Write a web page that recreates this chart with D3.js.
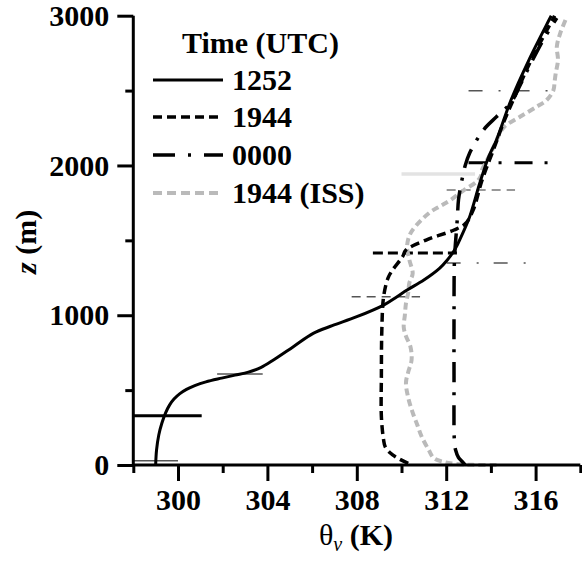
<!DOCTYPE html>
<html>
<head>
<meta charset="utf-8">
<script src="https://cdn.jsdelivr.net/npm/d3@7"></script>
<style>
  html, body { margin: 0; padding: 0; background: #fff; }
  svg { display: block; }
  text { font-family: "Liberation Serif", "Times New Roman", serif; }
</style>
</head>
<body>
<svg id="chart" width="582" height="562"></svg>
<script>
// ---------------- data ----------------
const seriesNames = ["1252", "1944", "0000", "1944 (ISS)"];

const z1252 = [0, 100, 200, 280, 350, 400, 440, 475, 505, 530, 555, 580, 600, 620, 650, 701, 790, 879, 930, 990, 1068, 1124, 1168, 1235, 1313, 1369, 1430, 1470, 1502, 1658, 1881, 2058, 2170, 2437, 2704, 2971, 3000];
const t1252 = [299.0, 299.04, 299.14, 299.28, 299.45, 299.62, 299.82, 300.07, 300.38, 300.75, 301.25, 301.95, 302.55, 303.15, 303.7, 304.27, 305.16, 306.05, 306.9, 308.0, 309.2, 309.8, 310.25, 311.0, 311.7, 312.05, 312.35, 312.5, 312.6, 313.05, 313.5, 313.9, 314.25, 314.9, 315.7, 316.6, 316.7];

const z1944 = [11, 40, 80, 122, 167, 322, 600, 900, 1124, 1250, 1302, 1391, 1435, 1502, 1569, 1610, 1700, 1900, 2100, 2300, 2437, 2704, 2971, 3000];
const t1944 = [310.3, 309.9, 309.5, 309.27, 309.2, 309.1, 309.1, 309.12, 309.2, 309.4, 309.6, 310.05, 310.2, 311.1, 312.35, 312.85, 313.2, 313.6, 314.1, 314.6, 315.0, 315.8, 316.75, 316.85];

const z0000 = [0, 25, 50, 100, 150, 600, 1000, 1370, 1550, 1650, 1770, 1900, 2000, 2083, 2190, 2260, 2325, 2420, 2550, 2700, 2840, 2985];
const t0000 = [312.85, 312.7, 312.55, 312.42, 312.37, 312.35, 312.35, 312.37, 312.45, 312.5, 312.55, 312.7, 312.85, 313.05, 313.45, 313.8, 314.25, 314.9, 315.35, 315.85, 316.35, 316.95];

const zISS = [0, 1, 8, 20, 45, 100, 190, 270, 350, 450, 550, 620, 700, 790, 860, 920, 1000, 1080, 1150, 1215, 1280, 1370, 1460, 1530, 1570, 1630, 1690, 1730, 1770, 1836, 1890, 1930, 1970, 2030, 2083, 2150, 2200, 2258, 2325, 2392, 2437, 2504, 2560, 2615, 2704, 2793, 2882, 2993];
const tISS = [314.25, 313.2, 312.4, 311.9, 311.45, 311.22, 310.9, 310.7, 310.5, 310.3, 310.2, 310.3, 310.45, 310.4, 310.2, 310.1, 310.15, 310.2, 310.3, 310.35, 310.5, 310.35, 310.25, 310.35, 310.5, 310.85, 311.3, 311.75, 312.2, 312.8, 313.35, 313.55, 313.6, 313.8, 314.0, 314.2, 314.35, 314.6, 315.3, 316.05, 316.5, 316.8, 316.85, 316.9, 317.0, 316.95, 317.1, 317.4];

// horizontal marker segments (series index, kind, height, theta range)
const markerSeries = [0, 0, 0, 1, 1, 1, 2, 2, 2, 3];
const markerKind   = ["thick", "thin", "thin", "thick", "thin", "thinGray", "thick", "thin", "thin", "thick"];
const markerZ      = [329, 29, 607, 1415, 1124, 1836, 2018, 1349, 2499, 1943];
const markerT0     = [298, 298, 301.75, 308.72, 307.77, 312.02, 313.0, 312.02, 313.0, 310.0];
const markerT1     = [301.06, 300, 303.79, 312.48, 310.83, 315.08, 316.64, 315.6, 316.64, 313.29];

const xMajorTicks = [300, 304, 308, 312, 316];
const xMinorTicks = [298, 302, 306, 310, 314, 318];
const yMajorTicks = [0, 1000, 2000, 3000];
const yMinorTicks = [500, 1500, 2500];

// ---------------- drawing ----------------
const svg = d3.select("#chart");
svg.append("rect").attr("width", 582).attr("height", 562).attr("fill", "#fff");

const x = d3.scaleLinear().domain([298, 318]).range([133.3, 580.3]);
const y = d3.scaleLinear().domain([0, 3000]).range([465, 15.7]);

const styles = [
  { stroke: "#000", width: 3, dash: null },
  { stroke: "#000", width: 3.5, dash: "9,5" },
  { stroke: "#000", width: 3.5, dash: "20,10,3,10" },
  { stroke: "#bababa", width: 4, dash: "7,4" }
];

// markers
const markerG = svg.append("g");
markerSeries.forEach((s, i) => {
  let stroke = "#000", w = 3, dash = null;
  const kind = markerKind[i];
  if (s === 1) dash = kind === "thick" ? "10,5" : "9,6";
  if (s === 2) dash = kind === "thick" ? "18,12,3,13" : "14,16,2,15";
  if (kind === "thin") { stroke = "#555"; w = 1.5; }
  if (kind === "thinGray") { stroke = "#777"; w = 1.5; }
  if (s === 3) { stroke = "#e3e3e3"; w = 3.5; dash = null; }
  markerG.append("line")
    .attr("x1", x(markerT0[i])).attr("x2", x(markerT1[i]))
    .attr("y1", y(markerZ[i])).attr("y2", y(markerZ[i]))
    .attr("stroke", stroke).attr("stroke-width", w)
    .attr("stroke-dasharray", dash);
});

// profiles
const line = d3.line().x(d => x(d[1])).y(d => y(d[0])).curve(d3.curveCatmullRom.alpha(0.5));
const data = [
  d3.zip(z1252, t1252),
  d3.zip(z1944, t1944),
  d3.zip(z0000, t0000),
  d3.zip(zISS, tISS)
];
const drawOrder = [3, 2, 1, 0];
drawOrder.forEach(i => {
  svg.append("path")
    .attr("d", line(data[i]))
    .attr("fill", "none")
    .attr("stroke", styles[i].stroke)
    .attr("stroke-width", styles[i].width)
    .attr("stroke-dasharray", styles[i].dash)
    .attr("stroke-linejoin", "round");
});

// axes
function styleAxis(g) {
  g.select(".domain").attr("stroke-width", 3).attr("stroke", "#000");
  g.selectAll(".tick line").attr("stroke-width", 3).attr("stroke", "#000");
  g.selectAll(".tick text").attr("font-family", "Liberation Serif, serif")
    .attr("font-weight", "bold").attr("font-size", 30).attr("fill", "#000");
}
const yMinor = svg.append("g").attr("transform", `translate(${x(298)},0)`)
  .call(d3.axisLeft(y).tickValues(yMinorTicks).tickSize(8).tickFormat(""));
styleAxis(yMinor);
const yMajor = svg.append("g").attr("transform", `translate(${x(298)},0)`)
  .call(d3.axisLeft(y).tickValues(yMajorTicks).tickSize(16).tickPadding(8).tickFormat(d3.format("d")));
styleAxis(yMajor);
yMajor.select(".domain").attr("d", `M0,${y(3000)}V${y(0)}`);

const xMinor = svg.append("g").attr("transform", `translate(0,${y(0)})`)
  .call(d3.axisBottom(x).tickValues(xMinorTicks).tickSize(8).tickFormat(""));
styleAxis(xMinor);
const xMajor = svg.append("g").attr("transform", `translate(0,${y(0)})`)
  .call(d3.axisBottom(x).tickValues(xMajorTicks).tickSize(16).tickPadding(8).tickFormat(d3.format("d")));
styleAxis(xMajor);
xMajor.select(".domain").attr("d", `M${x(298)},0H${x(318)}`);
xMinor.select(".domain").remove();
yMinor.select(".domain").remove();

// axis titles
const xt = svg.append("text").attr("x", 356).attr("y", 545).attr("text-anchor", "middle")
  .attr("font-size", 30).attr("fill", "#000");
xt.append("tspan").text("θ");
xt.append("tspan").attr("font-style", "italic").attr("font-size", 20).attr("dy", 6).text("v");
xt.append("tspan").attr("font-weight", "bold").attr("dy", -6).text(" (K)");

const yt = svg.append("text").attr("transform", `translate(36,${y(1490)}) rotate(-90)`)
  .attr("text-anchor", "middle").attr("font-size", 30).attr("font-weight", "bold").attr("fill", "#000");
yt.append("tspan").attr("font-style", "italic").text("z");
yt.append("tspan").text(" (m)");

// legend
const lg = svg.append("g");
lg.append("text").attr("x", 182).attr("y", 53).attr("font-size", 30).attr("font-weight", "bold").text("Time (UTC)");
const rowY = [80, 117, 155, 193];
seriesNames.forEach((name, i) => {
  lg.append("line").attr("x1", 153).attr("x2", 223).attr("y1", rowY[i]).attr("y2", rowY[i])
    .attr("stroke", styles[i].stroke).attr("stroke-width", styles[i].width)
    .attr("stroke-dasharray", i === 2 ? "22,13,3,13" : (i === 0 ? null : "9,5"));
  lg.append("text").attr("x", 232).attr("y", rowY[i] + 10).attr("font-size", 30)
    .attr("font-weight", "bold").text(name);
});
</script>
</body>
</html>
